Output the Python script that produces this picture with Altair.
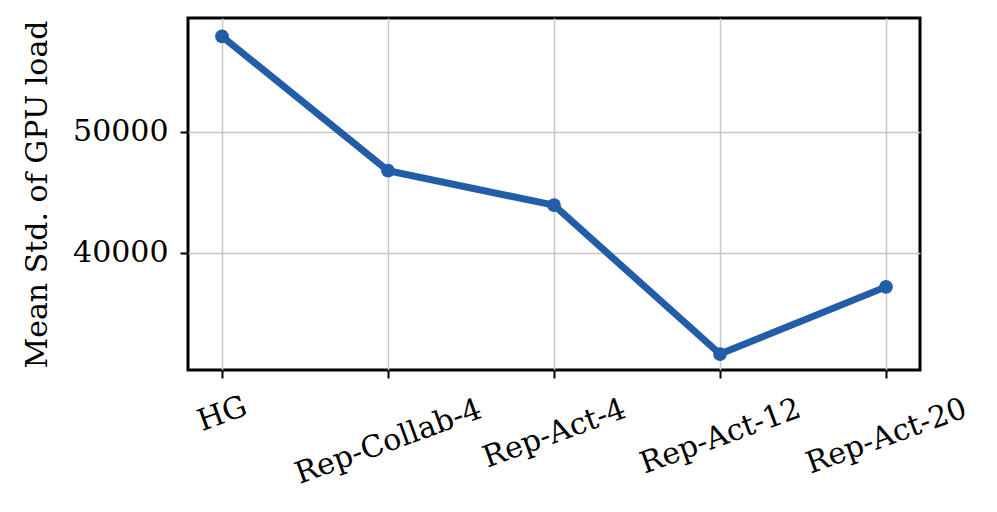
import altair as alt
import pandas as pd

methods = ["HG", "Rep-Collab-4", "Rep-Act-4", "Rep-Act-12", "Rep-Act-20"]
mean_std = [57900, 46800, 43950, 31650, 37200]
y_ticks = [40000, 50000]

df = pd.DataFrame({"method": methods, "value": mean_std})

FONT = "DejaVu Serif"
COLOR = "#225da8"
FS = 30

x = alt.X(
    "method:N",
    sort=methods,
    scale=alt.Scale(type="point", padding=0.2048),
    axis=alt.Axis(
        title=None,
        labelAngle=-20,
        labelAlign="center",
        labelBaseline="middle",
        labelPadding=alt.ExprRef("30 + 2.8*length(datum.label)"),
        labelLimit=1000,
        labelFont=FONT,
        labelFontSize=FS,
        labelColor="black",
        tickSize=8,
        tickWidth=2,
        tickColor="black",
        domain=False,
        grid=True,
        gridColor="#c8c8c8",
        gridWidth=1.5,
    ),
)
y = alt.Y(
    "value:Q",
    scale=alt.Scale(domain=[30330, 59420], nice=False, zero=False),
    axis=alt.Axis(
        title="Mean Std. of GPU load",
        titleFont=FONT,
        titleFontSize=FS,
        titleFontWeight="normal",
        titleColor="black",
        titlePadding=20,
        values=y_ticks,
        format="d",
        labelFont=FONT,
        labelFontSize=FS,
        labelColor="black",
        labelPadding=12,
        tickSize=8,
        tickWidth=2,
        tickColor="black",
        domain=False,
        grid=True,
        gridColor="#c8c8c8",
        gridWidth=1.5,
    ),
)

line = alt.Chart(df).mark_line(color=COLOR, strokeWidth=7).encode(x=x, y=y)
pts = alt.Chart(df).mark_circle(color=COLOR, size=190, opacity=1).encode(x=x, y=y)

chart = (
    alt.layer(line, pts)
    .properties(
        width=732,
        height=352,
        background="white",
        autosize=alt.AutoSizeParams(type="none"),
        padding={"left": 180, "top": 10, "right": 69, "bottom": 134},
    )
    .configure_view(stroke="black", strokeWidth=3, strokeOpacity=1)
)

chart.save("out.html", embed_options={"renderer": "svg", "actions": False})
